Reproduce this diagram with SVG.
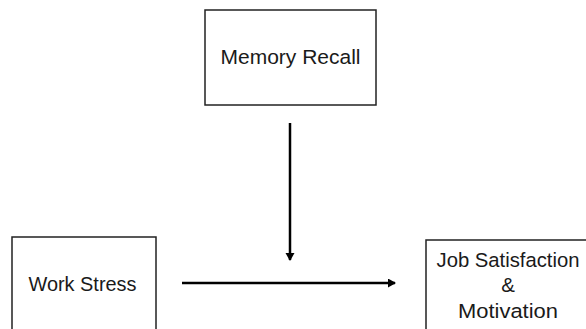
<svg xmlns="http://www.w3.org/2000/svg" width="586" height="329" viewBox="0 0 586 329">
<defs>
<marker id="ah" markerWidth="10" markerHeight="10" refX="7" refY="4.5" orient="auto" markerUnits="userSpaceOnUse">
<path d="M0,0 L8,4.5 L0,9 z" fill="#000"/>
</marker>
<style>
.box{fill:#fff;stroke:#222;stroke-width:1.5}
.t{font-family:"Liberation Sans",Arial,sans-serif;font-size:20.5px;fill:#1a1a1a;text-anchor:middle}
.c{stroke:#000;stroke-width:2.5;fill:none;marker-end:url(#ah)}
</style>
</defs>
<rect width="586" height="329" fill="#fff"/>
<g id="memory-recall">
<rect class="box" x="205" y="10" width="171" height="95"/>
<text class="t" x="290.5" y="64" textLength="140" lengthAdjust="spacingAndGlyphs">Memory Recall</text>
</g>
<g id="work-stress">
<rect class="box" x="12" y="237" width="144" height="100"/>
<text class="t" x="82.5" y="291" textLength="108" lengthAdjust="spacingAndGlyphs">Work Stress</text>
</g>
<g id="job-satisfaction">
<rect class="box" x="426" y="240" width="170" height="100"/>
<text class="t" x="508" y="267" textLength="143" lengthAdjust="spacingAndGlyphs">Job Satisfaction</text>
<text class="t" x="508" y="292">&amp;</text>
<text class="t" x="508" y="318" textLength="100" lengthAdjust="spacingAndGlyphs">Motivation</text>
</g>
<g id="connectors">
<line class="c" x1="290" y1="123" x2="290" y2="260"/>
<line class="c" x1="182" y1="283" x2="395" y2="283"/>
</g>
</svg>
